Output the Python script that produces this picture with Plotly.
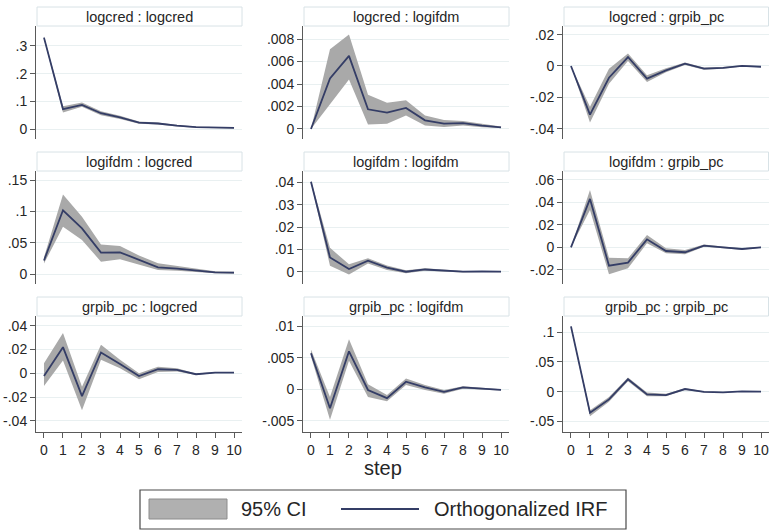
import plotly.graph_objects as go

W, H = 769, 530

steps = list(range(11))
step_ticks = [str(s) for s in steps]

panel_titles = [
    "logcred : logcred", "logcred : logifdm", "logcred : grpib_pc",
    "logifdm : logcred", "logifdm : logifdm", "logifdm : grpib_pc",
    "grpib_pc : logcred", "grpib_pc : logifdm", "grpib_pc : grpib_pc",
]

# --- panel 1: logcred : logcred
irf_1 = [0.330, 0.072, 0.087, 0.057, 0.042, 0.023, 0.020, 0.012, 0.007, 0.005, 0.004]
hi_1 = [0.335, 0.082, 0.096, 0.064, 0.048, 0.027, 0.024, 0.015, 0.009, 0.007, 0.005]
lo_1 = [0.325, 0.060, 0.080, 0.050, 0.036, 0.019, 0.016, 0.009, 0.005, 0.003, 0.002]
# --- panel 2: logcred : logifdm
irf_2 = [0, 0.0045, 0.0065, 0.00175, 0.00145, 0.00187, 0.00077, 0.00047, 0.00053, 0.0003, 0.00015]
hi_2 = [0, 0.0071, 0.0084, 0.00305, 0.00234, 0.00255, 0.0012, 0.0008, 0.0007, 0.00045, 0.00022]
lo_2 = [0, 0.0022, 0.0044, 0.0004, 0.00047, 0.0012, 0.0003, 0.00018, 0.0003, 0.00015, 0.00008]
# --- panel 3: logcred : grpib_pc
irf_3 = [0, -0.031, -0.0075, 0.0057, -0.0081, -0.0028, 0.0015, -0.0017, -0.0012, 0.0000, -0.0005]
hi_3 = [0, -0.026, -0.0017, 0.0079, -0.0060, -0.0015, 0.0022, -0.0010, -0.0006, 0.0004, -0.0002]
lo_3 = [0, -0.036, -0.0113, 0.0032, -0.0102, -0.0040, 0.0006, -0.0024, -0.0018, -0.0004, -0.0008]
# --- panel 4: logifdm : logcred
irf_4 = [0.022, 0.102, 0.073, 0.0344, 0.035, 0.0228, 0.011, 0.009, 0.006, 0.003, 0.0025]
hi_4 = [0.027, 0.127, 0.0915, 0.0476, 0.045, 0.030, 0.0175, 0.0135, 0.009, 0.005, 0.004]
lo_4 = [0.017, 0.0757, 0.0545, 0.0201, 0.0238, 0.015, 0.0069, 0.0055, 0.003, 0.0015, 0.001]
# --- panel 5: logifdm : logifdm
irf_5 = [0.0403, 0.0064, 0.0012, 0.0049, 0.0018, 0.0000, 0.0010, 0.0005, 0.0000, 0.0001, 0.0000]
hi_5 = [0.0408, 0.0107, 0.0033, 0.0060, 0.0028, 0.0007, 0.0015, 0.0009, 0.0003, 0.0003, 0.0002]
lo_5 = [0.0398, 0.0027, -0.0012, 0.0037, 0.0008, -0.0007, 0.0004, 0.0001, -0.0003, -0.0001, -0.0002]
# --- panel 6: logifdm : grpib_pc
irf_6 = [0, 0.043, -0.0163, -0.0136, 0.0071, -0.0033, -0.0044, 0.0015, 0.0000, -0.0015, 0.0000]
hi_6 = [0, 0.051, -0.0092, -0.0098, 0.0110, -0.0009, -0.0025, 0.0025, 0.0008, -0.0009, 0.0004]
lo_6 = [0, 0.0332, -0.024, -0.0187, 0.0036, -0.0053, -0.0062, 0.0005, -0.0008, -0.0021, -0.0004]
# --- panel 7: grpib_pc : logcred
irf_7 = [-0.0023, 0.022, -0.0192, 0.0175, 0.0079, -0.0023, 0.0034, 0.0028, -0.0008, 0.0006, 0.0006]
hi_7 = [0.0085, 0.0338, -0.0113, 0.024, 0.0113, 0.0000, 0.0056, 0.0042, -0.0001, 0.0010, 0.0009]
lo_7 = [-0.0107, 0.0107, -0.031, 0.0113, 0.0042, -0.0050, 0.0011, 0.0014, -0.0015, 0.0002, 0.0003]
# --- panel 8: grpib_pc : logifdm
irf_8 = [0.0057, -0.0030, 0.0060, -0.0001, -0.0014, 0.0012, 0.0003, -0.0004, 0.0003, 0.0001, -0.0001]
hi_8 = [0.0063, -0.0012, 0.0079, 0.0008, -0.0009, 0.0017, 0.0007, -0.0001, 0.0005, 0.0003, 0.0000]
lo_8 = [0.0052, -0.0048, 0.0045, -0.0012, -0.0019, 0.0007, -0.0001, -0.0007, 0.0001, -0.0001, -0.0002]
# --- panel 9: grpib_pc : grpib_pc
irf_9 = [0.1096, -0.0354, -0.0129, 0.0208, -0.0045, -0.0056, 0.0045, -0.0003, -0.0011, 0.0004, 0.0000]
hi_9 = [0.1110, -0.031, -0.009, 0.024, -0.0015, -0.0036, 0.006, 0.0007, -0.0004, 0.0009, 0.0004]
lo_9 = [0.1082, -0.041, -0.017, 0.0175, -0.0075, -0.0076, 0.003, -0.0013, -0.0018, -0.0001, -0.0004]

# y tick values / labels
yt_1 = [0, 0.1, 0.2, 0.3]; yl_1 = ["0", ".1", ".2", ".3"]
yt_2 = [0, 0.002, 0.004, 0.006, 0.008]; yl_2 = ["0", ".002", ".004", ".006", ".008"]
yt_3 = [-0.04, -0.02, 0, 0.02]; yl_3 = ["-.04", "-.02", "0", ".02"]
yt_4 = [0, 0.05, 0.1, 0.15]; yl_4 = ["0", ".05", ".1", ".15"]
yt_5 = [0, 0.01, 0.02, 0.03, 0.04]; yl_5 = ["0", ".01", ".02", ".03", ".04"]
yt_6 = [-0.02, 0, 0.02, 0.04, 0.06]; yl_6 = ["-.02", "0", ".02", ".04", ".06"]
yt_7 = [-0.04, -0.02, 0, 0.02, 0.04]; yl_7 = ["-.04", "-.02", "0", ".02", ".04"]
yt_8 = [-0.005, 0, 0.005, 0.01]; yl_8 = ["-.005", "0", ".005", ".01"]
yt_9 = [-0.05, 0, 0.05, 0.1]; yl_9 = ["-.05", "0", ".05", ".1"]

# axis ranges
yr_1 = [-0.036, 0.372]
yr_2 = [-0.00089, 0.00916]
yr_3 = [-0.0466, 0.0255]
yr_4 = [-0.0155, 0.1645]
yr_5 = [-0.0055, 0.0451]
yr_6 = [-0.0326, 0.0678]
yr_7 = [-0.0494, 0.0482]
yr_8 = [-0.00674, 0.01158]
yr_9 = [-0.0676, 0.127]
xr = [-0.42, 10.42]

irfs = [irf_1, irf_2, irf_3, irf_4, irf_5, irf_6, irf_7, irf_8, irf_9]
his = [hi_1, hi_2, hi_3, hi_4, hi_5, hi_6, hi_7, hi_8, hi_9]
los = [lo_1, lo_2, lo_3, lo_4, lo_5, lo_6, lo_7, lo_8, lo_9]
yts = [yt_1, yt_2, yt_3, yt_4, yt_5, yt_6, yt_7, yt_8, yt_9]
yls = [yl_1, yl_2, yl_3, yl_4, yl_5, yl_6, yl_7, yl_8, yl_9]
yrs = [yr_1, yr_2, yr_3, yr_4, yr_5, yr_6, yr_7, yr_8, yr_9]

# layout in pixels
col_px = [(36, 242), (303, 509), (563, 769)]
row_px = [(26, 139), (171, 284), (316, 432)]
title_h = 19

LINE = "#343d66"
CI = "#a9a9a9"
GRID = "#e9f0f1"
AXIS = "#5a5a5a"
TXT = "#262626"
FONT = "Liberation Sans, Arial, sans-serif"

def px_x(x):
    return x / W

def px_y(y):
    return 1 - y / H

fig = go.Figure()
layout = {}
shapes = []
annotations = []

for i in range(9):
    r, c = divmod(i, 3)
    n = i + 1
    xa = "x" if n == 1 else f"x{n}"
    ya = "y" if n == 1 else f"y{n}"
    fig.add_trace(go.Scatter(x=steps, y=his[i], mode="lines", line=dict(width=0, color=CI),
                             xaxis=xa, yaxis=ya, showlegend=False, hoverinfo="skip"))
    fig.add_trace(go.Scatter(x=steps, y=los[i], mode="lines", line=dict(width=0, color=CI),
                             fill="tonexty", fillcolor=CI, xaxis=xa, yaxis=ya,
                             showlegend=False, name="95% CI"))
    fig.add_trace(go.Scatter(x=steps, y=irfs[i], mode="lines", line=dict(width=1.8, color=LINE),
                             xaxis=xa, yaxis=ya, showlegend=False, name="Orthogonalized IRF"))

    x0, x1 = col_px[c]
    y0, y1 = row_px[r]
    bottom = (r == 2)
    layout["xaxis" if n == 1 else f"xaxis{n}"] = dict(
        domain=[px_x(x0), px_x(x1)], anchor=ya, range=xr,
        showgrid=False, zeroline=False,
        showline=bottom, linecolor=AXIS, linewidth=1,
        ticks="outside" if bottom else "", ticklen=5, tickcolor=AXIS,
        tickvals=steps, ticktext=step_ticks, showticklabels=bottom,
        ticklabeloverflow="allow",
        tickfont=dict(size=14, color=TXT, family=FONT),
    )
    layout["yaxis" if n == 1 else f"yaxis{n}"] = dict(
        domain=[px_y(y1), px_y(y0)], anchor=xa, range=yrs[i],
        showgrid=True, gridcolor=GRID, gridwidth=1, zeroline=False,
        showline=True, linecolor=AXIS, linewidth=1,
        ticks="outside", ticklen=5, tickcolor=AXIS,
        tickvals=yts[i], ticktext=yls[i],
        tickfont=dict(size=14, color=TXT, family=FONT),
    )
    # title strip
    shapes.append(dict(type="rect", xref="paper", yref="paper",
                       x0=px_x(x0 + 1), x1=px_x(min(x1, 768.5)),
                       y0=px_y(y0), y1=px_y(y0 - title_h),
                       line=dict(color="#d8e2e6", width=1), fillcolor="white", layer="below"))
    annotations.append(dict(text=panel_titles[i], xref="paper", yref="paper",
                            x=px_x((x0 + x1) / 2), y=px_y(y0 - title_h / 2),
                            xanchor="center", yanchor="middle", showarrow=False,
                            font=dict(size=14.5, color=TXT, family=FONT)))

# x axis title "step"
annotations.append(dict(text="step", xref="paper", yref="paper", x=px_x(383), y=px_y(468),
                        xanchor="center", yanchor="middle", showarrow=False,
                        font=dict(size=20, color=TXT, family=FONT)))

# legend (box, swatch, line sample, labels)
shapes.append(dict(type="rect", xref="paper", yref="paper", x0=px_x(140), x1=px_x(626),
                   y0=px_y(529), y1=px_y(490), line=dict(color="#4a4a4a", width=1.2),
                   fillcolor="white", layer="below"))
shapes.append(dict(type="rect", xref="paper", yref="paper", x0=px_x(149), x1=px_x(227),
                   y0=px_y(519), y1=px_y(499), line=dict(color="#8c8c8c", width=1),
                   fillcolor="#b0b0b0"))
shapes.append(dict(type="line", xref="paper", yref="paper", x0=px_x(341), x1=px_x(419),
                   y0=px_y(509), y1=px_y(509), line=dict(color=LINE, width=1.8)))
annotations.append(dict(text="95% CI", xref="paper", yref="paper", x=px_x(239), y=px_y(509),
                        xanchor="left", yanchor="middle", showarrow=False,
                        font=dict(size=20, color=TXT, family=FONT)))
annotations.append(dict(text="Orthogonalized IRF", xref="paper", yref="paper", x=px_x(432), y=px_y(509),
                        xanchor="left", yanchor="middle", showarrow=False,
                        font=dict(size=20, color=TXT, family=FONT)))

fig.update_layout(
    width=W, height=H, margin=dict(l=0, r=0, t=0, b=0),
    paper_bgcolor="white", plot_bgcolor="white",
    showlegend=False, shapes=shapes, annotations=annotations,
    font=dict(family=FONT, color=TXT),
    **layout,
)

fig.write_html(
    "out.html",
    config={"displayModeBar": False},
    post_script="document.body.style.margin='0';document.body.style.padding='0';",
)
